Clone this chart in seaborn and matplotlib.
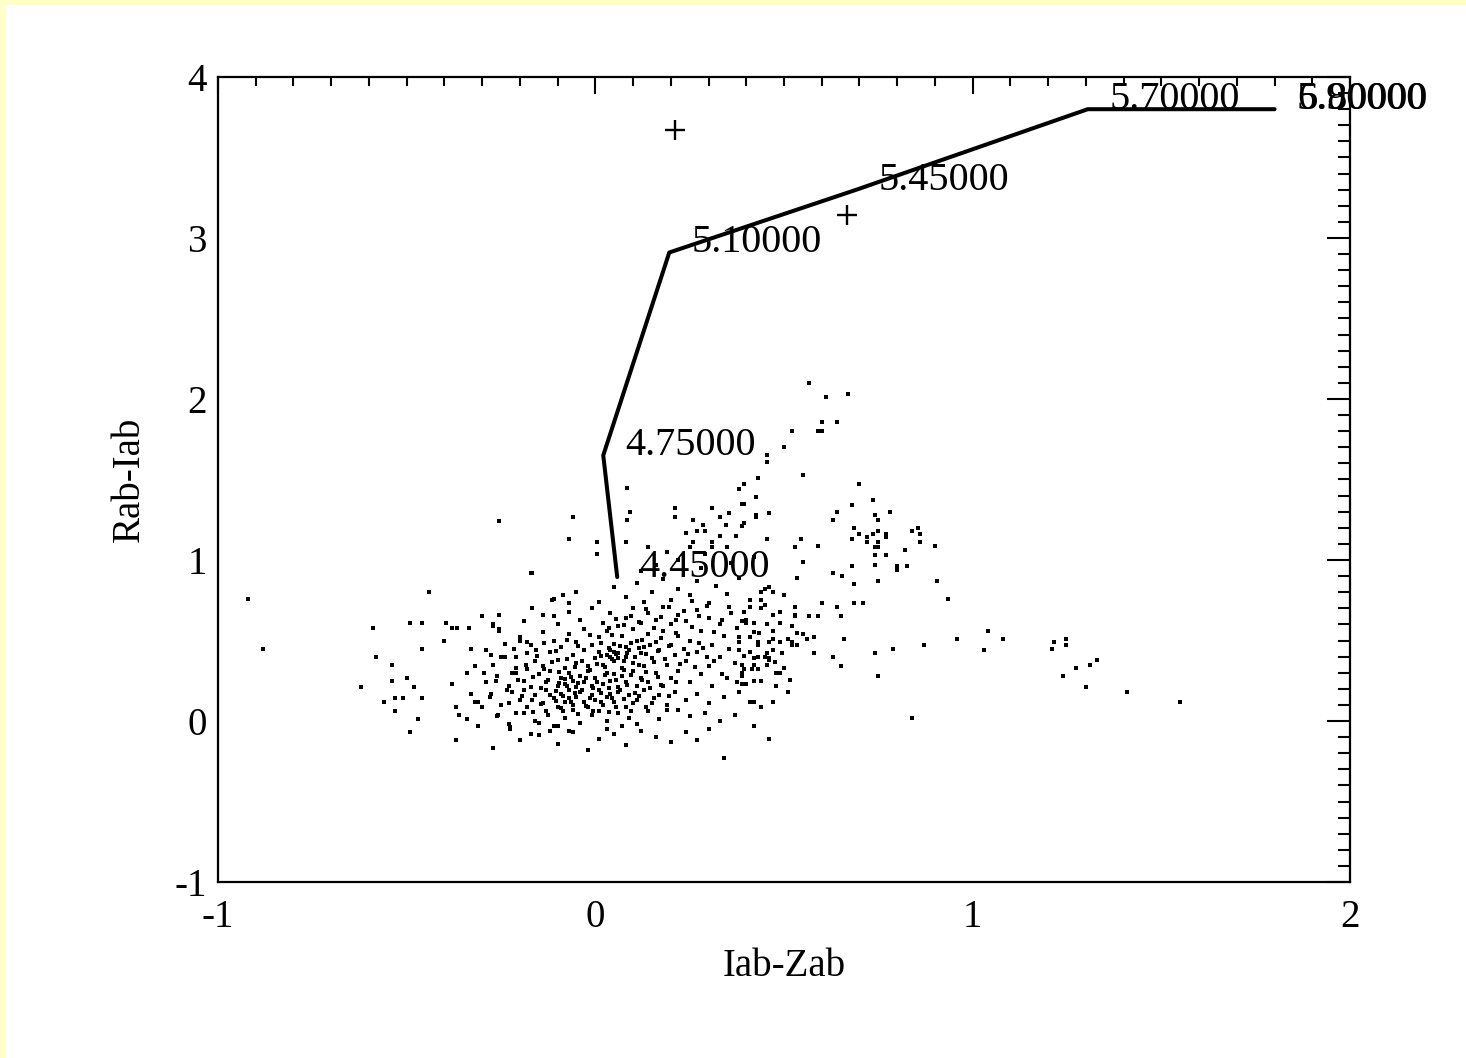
import matplotlib
matplotlib.use("Agg")
import matplotlib.pyplot as plt
import seaborn as sns
import pandas as pd
from matplotlib.ticker import MultipleLocator
from matplotlib.patches import Rectangle

# ---------------- data ----------------
left_pts = [(-0.92, 0.76), (-0.88, 0.45), (-0.59, 0.58), (-0.58, 0.40), (-0.62, 0.21), (-0.54, 0.35),
            (-0.54, 0.25), (-0.56, 0.12), (-0.53, 0.14), (-0.51, 0.14), (-0.53, 0.06), (-0.49, 0.61),
            (-0.46, 0.61), (-0.50, 0.27), (-0.48, 0.21), (-0.46, 0.45), (-0.46, 0.14), (-0.47, 0.01),
            (-0.49, -0.07), (-0.44, 0.80), (-0.395, 0.61), (-0.40, 0.50), (-0.38, 0.58), (-0.366, 0.58),
            (-0.334, 0.58), (-0.38, 0.23), (-0.37, 0.09), (-0.37, -0.12), (-0.36, 0.04), (-0.34, 0.30),
            (-0.34, 0.01), (-0.33, 0.45), (-0.33, 0.17), (-0.32, 0.12), (-0.31, -0.03), (-0.30, 0.65),
            (-0.27, -0.17), (-0.255, 0.66), (-0.27, 0.59), (-0.255, 0.56), (-0.17, 0.92), (-0.17, -0.08),
            (-0.225, -0.05), (-0.14, 0.66), (-0.115, 0.75), (-0.085, 0.78), (-0.07, 0.73), (-0.11, 0.65),
            (-0.167, 0.70), (-0.20, 0.50), (-0.18, 0.49), (-0.157, 0.44), (-0.21, 0.40), (-0.25, 0.40),
            (-0.22, 0.30), (-0.18, 0.32), (-0.19, 0.19), (-0.167, 0.13), (-0.228, 0.11), (-0.21, 0.05),
            (-0.225, -0.04), (-0.15, -0.01), (-0.10, -0.03), (-0.07, -0.06), (-0.263, 0.25), (-0.276, 0.17),
            (-0.30, 0.09), (-0.257, 0.04), (-0.294, 0.30), (-0.32, 0.34), (-0.276, 0.41), (-0.29, 0.44),
            (-0.27, 0.60), (-0.255, 0.57)]

core_low_pts = [(-0.27, -0.17), (-0.20, -0.12), (-0.15, -0.09), (-0.10, -0.14), (-0.06, -0.07), (-0.02, -0.18),
                (0.01, -0.11), (0.05, -0.08), (0.08, -0.15), (0.12, -0.06), (0.16, -0.10), (0.20, -0.13),
                (0.24, -0.07), (0.30, -0.05), (0.34, -0.23), (0.27, -0.12), (-0.12, -0.06), (0.03, -0.05),
                (-0.26, 0.03), (-0.23, -0.02), (-0.19, 0.05), (-0.16, 0.00), (-0.13, 0.06), (-0.11, -0.03),
                (-0.08, 0.02), (-0.06, 0.07), (-0.04, -0.01), (-0.01, 0.04), (0.01, 0.06), (0.03, 0.00),
                (0.06, 0.05), (0.09, 0.02), (0.11, -0.02), (0.14, 0.06), (0.17, 0.01), (0.19, 0.07),
                (0.22, 0.07), (0.25, 0.03), (0.29, 0.05), (0.33, 0.00), (0.37, 0.04), (-0.09, 0.08), (0.07, -0.03)]

core_mid_pts = [(-0.31, 0.12), (-0.28, 0.15), (-0.25, 0.10), (-0.22, 0.18), (-0.20, 0.13), (-0.18, 0.09),
                (-0.16, 0.16), (-0.14, 0.11), (-0.13, 0.19), (-0.11, 0.14), (-0.10, 0.09), (-0.09, 0.17),
                (-0.08, 0.12), (-0.07, 0.19), (-0.06, 0.10), (-0.05, 0.15), (-0.04, 0.18), (-0.03, 0.12),
                (-0.02, 0.09), (-0.01, 0.16), (0.00, 0.13), (0.01, 0.19), (0.02, 0.10), (0.03, 0.15),
                (0.05, 0.12), (0.06, 0.18), (0.08, 0.09), (0.09, 0.16), (0.11, 0.13), (0.13, 0.19),
                (0.15, 0.11), (0.17, 0.16), (0.19, 0.10), (0.21, 0.18), (0.24, 0.13), (0.27, 0.17),
                (0.30, 0.11), (0.34, 0.15), (0.38, 0.18), (0.42, 0.12), (-0.12, 0.16), (-0.07, 0.14),
                (0.04, 0.17), (0.10, 0.11),
                (-0.29, 0.24), (-0.26, 0.28), (-0.23, 0.22), (-0.21, 0.30), (-0.19, 0.25), (-0.17, 0.21),
                (-0.15, 0.29), (-0.13, 0.24), (-0.12, 0.31), (-0.10, 0.22), (-0.09, 0.27), (-0.08, 0.23),
                (-0.07, 0.30), (-0.06, 0.25), (-0.05, 0.21), (-0.04, 0.28), (-0.03, 0.24), (-0.02, 0.31),
                (-0.01, 0.22), (0.00, 0.27), (0.02, 0.23), (0.03, 0.30), (0.04, 0.25), (0.06, 0.21),
                (0.07, 0.28), (0.08, 0.24), (0.10, 0.31), (0.11, 0.22), (0.12, 0.27), (0.14, 0.24),
                (0.16, 0.30), (0.18, 0.22), (0.20, 0.27), (0.22, 0.31), (0.25, 0.24), (0.28, 0.29),
                (0.31, 0.22), (0.35, 0.27), (0.39, 0.30), (0.44, 0.25), (0.48, 0.22), (-0.08, 0.26), (0.05, 0.29)]

core_high_pts = [(-0.27, 0.35), (-0.24, 0.40), (-0.21, 0.33), (-0.18, 0.42), (-0.16, 0.37), (-0.14, 0.34),
                 (-0.12, 0.43), (-0.10, 0.38), (-0.08, 0.33), (-0.06, 0.41), (-0.05, 0.36), (-0.03, 0.44),
                 (-0.02, 0.34), (0.00, 0.39), (0.01, 0.43), (0.02, 0.35), (0.03, 0.41), (0.04, 0.44),
                 (0.05, 0.37), (0.06, 0.42), (0.07, 0.33), (0.08, 0.40), (0.09, 0.44), (0.10, 0.36),
                 (0.12, 0.42), (0.13, 0.34), (0.15, 0.39), (0.17, 0.44), (0.19, 0.35), (0.21, 0.41),
                 (0.24, 0.37), (0.27, 0.43), (0.30, 0.34), (0.33, 0.40), (0.37, 0.36), (0.41, 0.43),
                 (0.46, 0.38), (0.50, 0.33), (0.04, 0.40), (0.05, 0.43), (0.06, 0.39),
                 (-0.24, 0.48), (-0.20, 0.52), (-0.17, 0.47), (-0.14, 0.55), (-0.11, 0.50), (-0.09, 0.46),
                 (-0.07, 0.54), (-0.05, 0.49), (-0.03, 0.57), (-0.01, 0.47), (0.01, 0.52), (0.03, 0.56),
                 (0.05, 0.48), (0.07, 0.53), (0.08, 0.46), (0.10, 0.57), (0.11, 0.50), (0.13, 0.46),
                 (0.14, 0.54), (0.16, 0.49), (0.18, 0.56), (0.20, 0.47), (0.22, 0.53), (0.25, 0.50),
                 (0.28, 0.56), (0.31, 0.47), (0.34, 0.53), (0.38, 0.49), (0.42, 0.55), (0.47, 0.51), (0.52, 0.47),
                 (-0.19, 0.62), (-0.14, 0.66), (-0.10, 0.60), (-0.07, 0.68), (-0.04, 0.63), (-0.01, 0.70),
                 (0.02, 0.61), (0.04, 0.67), (0.06, 0.59), (0.08, 0.64), (0.10, 0.70), (0.12, 0.61),
                 (0.14, 0.67), (0.16, 0.63), (0.18, 0.71), (0.20, 0.60), (0.22, 0.66), (0.24, 0.62),
                 (0.27, 0.69), (0.30, 0.64), (0.33, 0.60), (0.36, 0.67), (0.40, 0.63), (0.44, 0.70),
                 (0.49, 0.61), (0.53, 0.66),
                 (-0.11, 0.76), (-0.05, 0.80), (0.01, 0.74), (0.05, 0.83), (0.08, 0.77), (0.11, 0.86),
                 (0.13, 0.74), (0.15, 0.80), (0.18, 0.88), (0.20, 0.75), (0.22, 0.82), (0.25, 0.78),
                 (0.27, 0.87), (0.30, 0.73), (0.32, 0.84), (0.35, 0.79), (0.38, 0.89), (0.41, 0.75),
                 (0.45, 0.82), (0.50, 0.78)]

core_dense_pts = [(-0.145, 0.205), (-0.125, 0.255), (-0.105, 0.185), (-0.095, 0.235), (-0.085, 0.155),
                  (-0.075, 0.215), (-0.065, 0.275), (-0.055, 0.175), (-0.045, 0.235), (-0.035, 0.195),
                  (-0.025, 0.265), (-0.015, 0.145), (-0.005, 0.205), (0.005, 0.245), (0.015, 0.175),
                  (0.025, 0.285), (0.035, 0.205), (0.045, 0.145), (0.055, 0.255), (0.065, 0.195),
                  (0.075, 0.315), (0.085, 0.225), (0.095, 0.285), (0.105, 0.175), (0.115, 0.345),
                  (0.125, 0.255), (0.135, 0.305), (0.145, 0.205), (0.155, 0.365), (0.165, 0.275),
                  (-0.135, 0.325), (-0.115, 0.365), (-0.095, 0.305), (-0.075, 0.385), (-0.055, 0.335),
                  (-0.035, 0.375), (-0.015, 0.315), (0.005, 0.355), (0.015, 0.405), (0.025, 0.335),
                  (0.035, 0.455), (0.045, 0.385), (0.055, 0.415), (0.065, 0.465), (0.075, 0.375),
                  (0.085, 0.425), (0.095, 0.485), (0.105, 0.395), (0.115, 0.455), (0.125, 0.505),
                  (0.135, 0.415), (0.145, 0.475), (0.165, 0.435), (0.175, 0.515), (0.185, 0.385),
                  (0.195, 0.465), (0.215, 0.545), (0.235, 0.445), (0.255, 0.585), (0.275, 0.485),
                  (-0.165, 0.055), (-0.145, 0.105), (-0.125, 0.035), (-0.105, 0.125), (-0.085, 0.065),
                  (-0.065, 0.115), (-0.045, 0.045), (-0.025, 0.095), (-0.005, 0.065), (0.015, 0.115),
                  (0.035, 0.055), (0.055, 0.085), (0.075, 0.135), (0.095, 0.065), (0.115, 0.155),
                  (0.135, 0.085), (0.155, 0.145), (0.175, 0.225), (0.195, 0.155), (0.215, 0.245),
                  (0.035, 0.575), (0.055, 0.635), (0.075, 0.595), (0.095, 0.655), (0.115, 0.615),
                  (0.135, 0.695), (0.155, 0.575), (0.175, 0.645), (0.195, 0.705), (0.215, 0.625),
                  (0.235, 0.685), (0.255, 0.745), (0.275, 0.655), (0.295, 0.715), (0.315, 0.555),
                  (0.335, 0.625), (0.355, 0.705), (0.375, 0.575), (0.395, 0.675), (0.295, 0.395),
                  (-0.205, 0.255), (-0.185, 0.345), (-0.165, 0.275), (-0.195, 0.155), (-0.235, 0.195),
                  (-0.215, 0.445), (-0.155, 0.405), (-0.135, 0.485), (-0.105, 0.435), (-0.075, 0.505),
                  (-0.045, 0.465), (-0.015, 0.535), (0.015, 0.485), (0.045, 0.535), (0.225, 0.355),
                  (0.245, 0.415), (0.265, 0.335), (0.285, 0.455), (0.315, 0.375), (0.335, 0.295),
                  (0.355, 0.445), (0.375, 0.245), (0.395, 0.405), (0.415, 0.325), (0.435, 0.545),
                  (0.455, 0.605), (0.475, 0.365), (0.495, 0.425), (0.515, 0.255), (0.535, 0.545)]

upper_pts = [(0.085, 1.45), (0.38, 1.44), (0.39, 1.35), (0.31, 1.32), (0.21, 1.32), (0.21, 1.27),
             (0.093, 1.30), (0.085, 1.25), (-0.06, 1.27), (-0.255, 1.24), (-0.07, 1.13), (0.005, 1.11),
             (0.005, 1.04), (0.08, 1.11), (-0.167, 0.92), (0.26, 1.25), (0.285, 1.22), (0.33, 1.27),
             (0.355, 1.29), (0.24, 1.17), (0.27, 1.18), (0.29, 1.18), (0.345, 1.22), (0.425, 1.27),
             (0.374, 1.15), (0.39, 1.21), (0.33, 1.15), (0.26, 1.11), (0.31, 1.11), (0.25, 1.08),
             (0.31, 1.08), (0.35, 1.08), (0.29, 1.04), (0.16, 0.97), (0.22, 1.00), (0.12, 0.93),
             (0.28, 0.95), (0.36, 0.98), (0.42, 1.02), (0.19, 1.05), (0.14, 1.08)]

plume_pts = [(0.565, 2.10), (0.61, 2.01), (0.67, 2.03), (0.60, 1.86), (0.64, 1.86), (0.52, 1.80),
             (0.59, 1.80), (0.60, 1.80), (0.50, 1.70), (0.455, 1.65), (0.455, 1.61), (0.55, 1.53),
             (0.43, 1.51), (0.70, 1.47), (0.735, 1.37), (0.68, 1.34), (0.78, 1.30), (0.74, 1.28),
             (0.64, 1.30), (0.63, 1.25), (0.75, 1.25), (0.685, 1.20), (0.70, 1.16), (0.72, 1.14),
             (0.735, 1.16), (0.75, 1.18), (0.77, 1.16), (0.77, 1.14), (0.68, 1.13), (0.72, 1.11),
             (0.75, 1.11), (0.74, 1.08), (0.75, 1.08), (0.84, 1.18), (0.855, 1.20), (0.86, 1.16),
             (0.86, 1.11), (0.90, 1.09), (0.82, 1.06), (0.74, 1.03), (0.77, 1.03), (0.74, 0.97),
             (0.80, 0.94), (0.80, 0.96), (0.825, 0.96), (0.68, 0.96), (0.63, 0.92), (0.655, 0.90),
             (0.75, 0.87), (0.685, 0.85), (0.905, 0.87), (0.935, 0.76), (0.545, 1.13), (0.53, 1.08),
             (0.59, 1.09), (0.55, 0.99), (0.535, 0.89), (0.425, 1.28), (0.46, 1.29), (0.425, 1.39),
             (0.395, 1.47), (0.395, 1.35), (0.395, 1.23), (0.455, 1.13), (0.46, 0.83), (0.47, 0.80),
             (0.44, 0.80)]

middle_pts = [(0.41, 0.71), (0.44, 0.75), (0.45, 0.72), (0.49, 0.68), (0.53, 0.71), (0.53, 0.65),
              (0.565, 0.65), (0.59, 0.65), (0.60, 0.73), (0.64, 0.71), (0.65, 0.65), (0.685, 0.73),
              (0.71, 0.73), (0.47, 0.66), (0.39, 0.62), (0.40, 0.61), (0.42, 0.61), (0.52, 0.59),
              (0.47, 0.56), (0.55, 0.54), (0.38, 0.52), (0.41, 0.52), (0.43, 0.49), (0.43, 0.47),
              (0.46, 0.49), (0.49, 0.49), (0.51, 0.51), (0.52, 0.49), (0.535, 0.47), (0.56, 0.51),
              (0.58, 0.52), (0.58, 0.42), (0.63, 0.40), (0.65, 0.34), (0.66, 0.51), (0.38, 0.44),
              (0.42, 0.39), (0.43, 0.40), (0.45, 0.40), (0.455, 0.42), (0.46, 0.39), (0.47, 0.44),
              (0.39, 0.35), (0.42, 0.35), (0.43, 0.32), (0.455, 0.35), (0.395, 0.32), (0.39, 0.28),
              (0.42, 0.25), (0.39, 0.23), (0.40, 0.23), (0.48, 0.30), (0.49, 0.30), (0.51, 0.18),
              (0.41, 0.12), (0.47, 0.12), (0.44, 0.09), (0.42, -0.03), (0.46, -0.11), (0.74, 0.42),
              (0.79, 0.45), (0.87, 0.47), (0.75, 0.28), (0.84, 0.02)]

right_pts = [(0.958, 0.51), (1.04, 0.56), (1.03, 0.44), (1.08, 0.51), (1.21, 0.45), (1.215, 0.49),
             (1.247, 0.51), (1.247, 0.47), (1.24, 0.28), (1.275, 0.33), (1.31, 0.35), (1.33, 0.38),
             (1.30, 0.21), (1.41, 0.18), (1.55, 0.12)]

track_x = [0.058, 0.021, 0.196, 0.692, 1.305, 1.80, 1.80]
track_y = [0.894, 1.65, 2.91, 3.30, 3.80, 3.80, 3.80]
track_labels = ["4.45000", "4.75000", "5.10000", "5.45000", "5.70000", "5.90000", "6.80000"]

cross_x = [0.21, 0.668]
cross_y = [3.67, 3.14]

x_ticks = [-1, 0, 1, 2]
y_ticks = [-1, 0, 1, 2, 3, 4]

# ---------------- figure ----------------
sns.set_theme(style="white")
plt.rcParams['font.family'] = ['Liberation Serif', 'DejaVu Serif']

fig = plt.figure(figsize=(14.66, 10.58), dpi=100)
fig.patch.set_facecolor("white")
fig.patches.append(Rectangle((0, 0), 6 / 1466, 1, transform=fig.transFigure,
                             facecolor="#FFFFCC", edgecolor="none", zorder=0))
fig.patches.append(Rectangle((0, 1 - 5 / 1058), 1, 5 / 1058, transform=fig.transFigure,
                             facecolor="#FFFFCC", edgecolor="none", zorder=0))

ax = fig.add_axes([218 / 1466, 1 - 882 / 1058, 1132 / 1466, 805 / 1058])

all_pts = (left_pts + core_low_pts + core_mid_pts + core_high_pts + core_dense_pts
           + upper_pts + plume_pts + middle_pts + right_pts)
df = pd.DataFrame(all_pts, columns=["x", "y"])
sns.scatterplot(data=df, x="x", y="y", ax=ax, marker="s", s=6, color="black",
                linewidth=0, legend=False, zorder=3)

track = pd.DataFrame({"x": track_x, "y": track_y})
sns.lineplot(data=track, x="x", y="y", sort=False, estimator=None, ax=ax,
             color="black", lw=2.9, zorder=4)
for tx, ty, lbl in zip(track_x, track_y, track_labels):
    ax.annotate(lbl, (tx, ty), xytext=(16, 0), textcoords="offset points",
                ha="left", va="baseline", fontsize=29, color="black", zorder=5)

cross = pd.DataFrame({"x": cross_x, "y": cross_y})
sns.scatterplot(data=cross, x="x", y="y", ax=ax, marker="+", s=190, color="black",
                linewidth=1.7, legend=False, zorder=5)

ax.set_xlim(-1, 2)
ax.set_ylim(-1, 4)
ax.set_xticks(x_ticks)
ax.set_yticks(y_ticks)
ax.set_xticklabels([str(v) for v in x_ticks])
ax.set_yticklabels([str(v) for v in y_ticks])
ax.xaxis.set_minor_locator(MultipleLocator(0.1))
ax.yaxis.set_minor_locator(MultipleLocator(0.1))

ax.tick_params(axis="both", which="both", direction="in", top=True, right=True,
               color="black", width=1.5, labelsize=28, labelcolor="black")
ax.tick_params(axis="x", which="major", length=12, pad=12)
ax.tick_params(axis="x", which="minor", length=6.5)
ax.tick_params(axis="y", which="major", length=16.5, pad=8)
ax.tick_params(axis="y", which="minor", length=8.5)

for sp in ax.spines.values():
    sp.set_color("black")
    sp.set_linewidth(1.6)
    sp.set_visible(True)

ax.set_xlabel("Iab-Zab", fontsize=28, color="black")
ax.set_ylabel("Rab-Iab", fontsize=28, color="black")
ax.xaxis.set_label_coords(0.5, -0.082)
ax.yaxis.set_label_coords(-0.062, 0.5)
ax.grid(False)
ax.set_facecolor("white")

fig.savefig("out.png", dpi=100, facecolor=fig.get_facecolor())
